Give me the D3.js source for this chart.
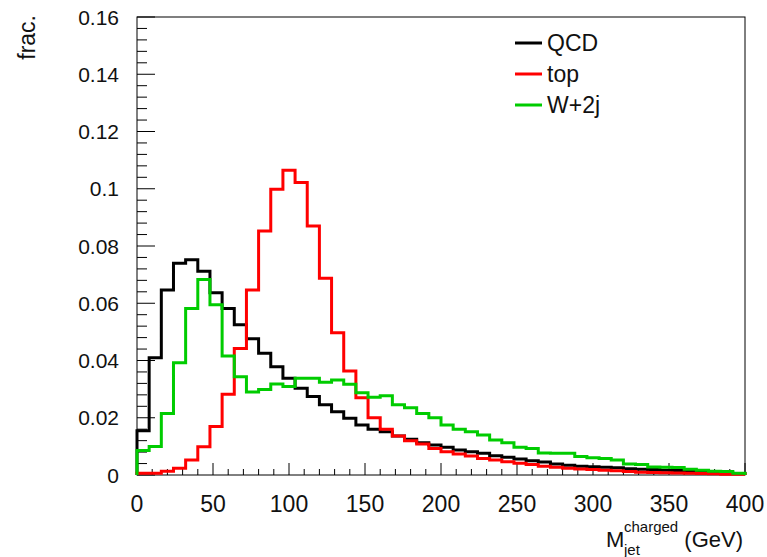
<!DOCTYPE html>
<html lang="en">
<head>
  <meta charset="utf-8">
  <title>M_jet charged</title>
  <script src="https://d3js.org/d3.v7.min.js"></script>
  <style>
    body { margin: 0; background: #fff; }
    text { font-family: "Liberation Sans", Arial, sans-serif; fill: #111; }
  </style>
</head>
<body>
  <div id="chart"></div>
  <script>
    // 50 bins of 8 GeV from 0 to 400
    var binEdges = d3.range(0, 401, 8);
    var qcd = [0.0155, 0.041, 0.0646, 0.074, 0.0752, 0.0712, 0.0637, 0.0582, 0.0525, 0.0476,
      0.0425, 0.0378, 0.0338, 0.0303, 0.0274, 0.0245, 0.0221, 0.0198, 0.0175, 0.016,
      0.0151, 0.0136, 0.0125, 0.0113, 0.0105, 0.0097, 0.0087, 0.0081, 0.0076, 0.0067,
      0.0062, 0.0056, 0.005, 0.0045, 0.0038, 0.0034, 0.0031, 0.0029, 0.0027, 0.0025,
      0.0022, 0.002, 0.0019, 0.0017, 0.0016, 0.0013, 0.0011, 0.0009, 0.0007, 0.0005];
    var top_ = [0.0006, 0.0006, 0.0013, 0.0024, 0.0052, 0.0099, 0.0169, 0.0282, 0.0442, 0.0646,
      0.0852, 0.0998, 0.1065, 0.1022, 0.087, 0.0687, 0.0497, 0.0363, 0.027, 0.02,
      0.016, 0.0136, 0.012, 0.0108, 0.0093, 0.0081, 0.0073, 0.0066, 0.0058, 0.0052,
      0.0046, 0.0041, 0.0037, 0.0031, 0.0027, 0.0024, 0.0021, 0.0019, 0.0017, 0.0015,
      0.0012, 0.001, 0.0009, 0.0008, 0.0007, 0.0006, 0.0005, 0.0004, 0.0003, 0.0003];
    var w2j = [0.0086, 0.01, 0.0215, 0.0392, 0.0582, 0.0683, 0.0595, 0.0416, 0.0343, 0.029,
      0.0299, 0.0318, 0.0309, 0.0338, 0.0338, 0.0324, 0.0332, 0.0317, 0.0287, 0.0272,
      0.0277, 0.0245, 0.0235, 0.0215, 0.02, 0.0175, 0.016, 0.0151, 0.014, 0.0122,
      0.0113, 0.0097, 0.0093, 0.0077, 0.0076, 0.0076, 0.0065, 0.006, 0.0058, 0.0052,
      0.0038, 0.0037, 0.0028, 0.0027, 0.0026, 0.002, 0.0017, 0.0013, 0.0012, 0.0006];
    var seriesNames = ["QCD", "top", "W+2j"];
    var seriesColors = ["#000000", "#ff0000", "#00cc00"];
    var xTicks = [0, 50, 100, 150, 200, 250, 300, 350, 400];
    var yTicks = [0, 0.02, 0.04, 0.06, 0.08, 0.1, 0.12, 0.14, 0.16];

    var width = 767, height = 557;
    var svg = d3.select("#chart").append("svg")
      .attr("width", width)
      .attr("height", height);

    var x = d3.scaleLinear().domain([0, 400]).range([137, 745]);
    var y = d3.scaleLinear().domain([0, 0.16]).range([475, 17]);

    // frame
    svg.append("rect")
      .attr("x", x(0)).attr("y", y(0.16))
      .attr("width", x(400) - x(0)).attr("height", y(0) - y(0.16))
      .attr("fill", "none").attr("stroke", "#000").attr("stroke-width", 1);

    // x ticks (major every 50, minor every 10)
    d3.range(0, 401, 10).forEach(function (v) {
      var major = v % 50 == 0;
      svg.append("line")
        .attr("x1", x(v)).attr("x2", x(v))
        .attr("y1", y(0)).attr("y2", y(0) - (major ? 12 : 6))
        .attr("stroke", "#000").attr("stroke-width", 1);
    });
    svg.selectAll(".xlab").data(xTicks).enter().append("text")
      .attr("class", "xlab")
      .attr("x", function (d) { return x(d); })
      .attr("y", 512)
      .attr("text-anchor", "middle")
      .style("font-size", "23px")
      .text(function (d) { return d; });

    // y ticks (major every 0.02, minor every 0.004)
    d3.range(0, 41).forEach(function (i) {
      var v = i * 0.004;
      var major = i % 5 == 0;
      svg.append("line")
        .attr("x1", x(0)).attr("x2", x(0) + (major ? 18 : 10))
        .attr("y1", y(v)).attr("y2", y(v))
        .attr("stroke", "#000").attr("stroke-width", 1);
    });
    svg.selectAll(".ylab").data(yTicks).enter().append("text")
      .attr("class", "ylab")
      .attr("x", 119)
      .attr("y", function (d) { return y(d); })
      .attr("dy", "0.36em")
      .attr("text-anchor", "end")
      .style("font-size", "21px")
      .text(function (d) { return d3.format("~g")(d); });

    // histograms
    function stepPath(vals) {
      var pts = [[x(binEdges[0]), y(0)]];
      vals.forEach(function (v, i) {
        pts.push([x(binEdges[i]), y(v)]);
        pts.push([x(binEdges[i + 1]), y(v)]);
      });
      pts.push([x(binEdges[vals.length]), y(0)]);
      return d3.line()(pts);
    }
    [qcd, top_, w2j].forEach(function (vals, k) {
      svg.append("path")
        .attr("d", stepPath(vals))
        .attr("fill", "none")
        .attr("stroke", seriesColors[k])
        .attr("stroke-width", 3)
        .attr("stroke-linejoin", "miter");
    });

    // legend
    var legY = [43, 74, 105];
    seriesNames.forEach(function (name, k) {
      svg.append("line")
        .attr("x1", 515).attr("x2", 542)
        .attr("y1", legY[k]).attr("y2", legY[k])
        .attr("stroke", seriesColors[k]).attr("stroke-width", 3);
      svg.append("text")
        .attr("x", 547).attr("y", legY[k])
        .attr("dy", "0.36em")
        .style("font-size", "23px")
        .text(name);
    });

    // axis titles
    svg.append("text")
      .attr("transform", "translate(35,15) rotate(-90)")
      .attr("text-anchor", "end")
      .style("font-size", "23px")
      .text("frac.");

    svg.append("text").attr("x", 606).attr("y", 547).style("font-size", "22px").text("M");
    svg.append("text").attr("x", 624).attr("y", 532).style("font-size", "15px").text("charged");
    svg.append("text").attr("x", 624).attr("y", 555).style("font-size", "15px").text("jet");
    svg.append("text").attr("x", 743).attr("y", 547).attr("text-anchor", "end")
      .style("font-size", "22px").text("(GeV)");
  </script>
</body>
</html>
